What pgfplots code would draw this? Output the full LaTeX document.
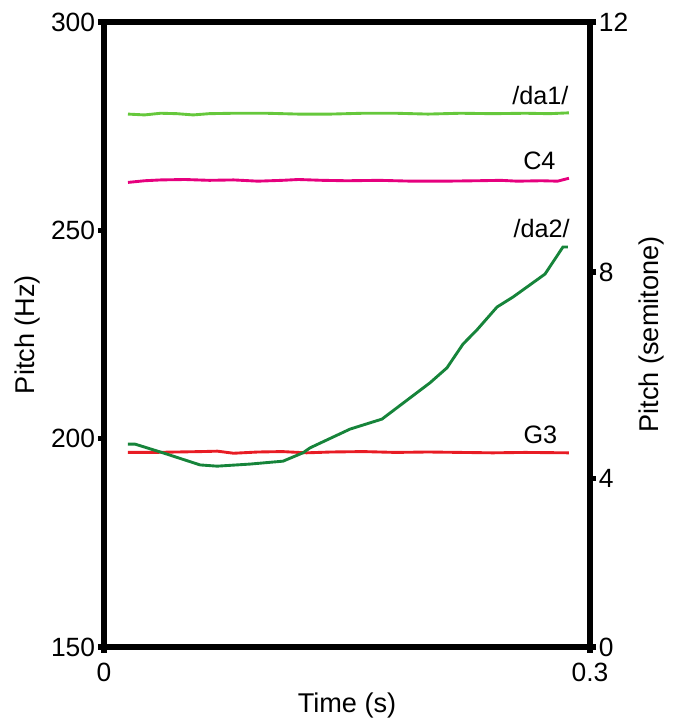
\documentclass[border=0pt]{standalone}
\usepackage{pgfplots}
\pgfplotsset{compat=1.18}
\usepackage{fontspec}
\setmainfont{Liberation Sans}
\definecolor{lgreen}{RGB}{102,200,60}
\definecolor{magen}{RGB}{230,0,126}
\definecolor{redl}{RGB}{232,28,36}
\definecolor{dgreen}{RGB}{22,132,58}
\begin{document}
\begin{tikzpicture}
\path[use as bounding box] (-43.33pt,-30pt) rectangle (239.58pt,269.57pt);
\pgfplotsset{
  common/.style={
    scale only axis, width=202.5pt, height=260.4pt,
    at={(0,0)}, anchor=south west,
    xmin=0, xmax=0.3, ymin=150, ymax=300,
    axis line style={line width=2.5pt},
    tick style={line width=2.2pt, black},
    tick align=outside, major tick length=2.5pt,
    tick label style={font=\fontsize{11}{13}\selectfont},
    label style={font=\fontsize{11.3}{13}\selectfont},
    /pgf/number format/assume math mode=true,
    yticklabel style={inner sep=1pt},
    xticklabel style={inner sep=2pt, yshift=-2pt},
  }
}
\begin{axis}[common,
  xtick={0,0.3}, xticklabels={0,0.3},
  ytick={150,200,250,300},
  ytick pos=left, xtick pos=bottom,
  xlabel={Time (s)}, ylabel={Pitch (Hz)},
  xlabel style={at={(axis description cs:0.5,-0.0928)}, anchor=center},
  ylabel style={at={(axis description cs:-0.158,0.5)}, anchor=center},
  clip=false,
]
% /da1/
\addplot[lgreen, line width=1.2pt] coordinates {
(0.0148,277.9)(0.025,277.7)(0.035,278.1)(0.045,278.0)(0.055,277.7)(0.065,278.0)(0.08,278.1)(0.10,278.1)(0.12,277.9)(0.14,277.9)(0.16,278.1)(0.18,278.1)(0.20,277.9)(0.22,278.1)(0.24,278.0)(0.26,278.1)(0.275,278.0)(0.287,278.2)};
% C4
\addplot[magen, line width=1.2pt] coordinates {
(0.0148,261.5)(0.025,261.9)(0.035,262.1)(0.05,262.2)(0.065,262.0)(0.08,262.1)(0.095,261.8)(0.11,262.0)(0.12,262.2)(0.135,262.0)(0.15,261.9)(0.17,262.0)(0.19,261.8)(0.21,261.8)(0.23,261.9)(0.245,262.0)(0.255,261.8)(0.27,261.9)(0.28,261.8)(0.287,262.5)};
% G3
\addplot[redl, line width=1.2pt] coordinates {
(0.0148,196.7)(0.03,196.7)(0.045,196.8)(0.06,196.9)(0.07,197.0)(0.08,196.5)(0.095,196.8)(0.11,196.9)(0.125,196.6)(0.14,196.8)(0.16,196.9)(0.18,196.7)(0.20,196.8)(0.22,196.7)(0.24,196.6)(0.26,196.7)(0.287,196.6)};
% /da2/
\addplot[dgreen, line width=1.2pt] coordinates {
(0.0148,198.7)(0.0191,198.7)(0.0364,196.6)(0.0593,193.7)(0.0698,193.4)(0.0901,193.9)(0.1105,194.6)(0.1228,196.6)(0.1272,197.8)(0.1519,202.3)(0.1716,204.7)(0.2012,213.4)(0.2117,217.0)(0.2216,222.7)(0.2302,226.1)(0.2426,231.6)(0.2525,234.0)(0.2722,239.5)(0.2833,246.0)(0.2864,246.0)};
\node[anchor=base east, font=\fontsize{10.5}{12}\selectfont, inner sep=0pt] at (axis cs:0.287,280.2) {/da1/};
\node[anchor=base east, font=\fontsize{10.5}{12}\selectfont, inner sep=0pt] at (axis cs:0.279,264.5) {C4};
\node[anchor=base east, font=\fontsize{10.5}{12}\selectfont, inner sep=0pt] at (axis cs:0.2877,248.3) {/da2/};
\node[anchor=base east, font=\fontsize{10.5}{12}\selectfont, inner sep=0pt] at (axis cs:0.280,198.9) {G3};
\end{axis}
\begin{axis}[common,
  axis x line=none, axis y line*=right,
  ytick={150,190.5,240,300}, yticklabels={0,4,8,12},
  ylabel={Pitch (semitone)},
  ylabel style={at={(axis description cs:1.126,0.5)}, anchor=center},
]
\end{axis}
\end{tikzpicture}
\end{document}
